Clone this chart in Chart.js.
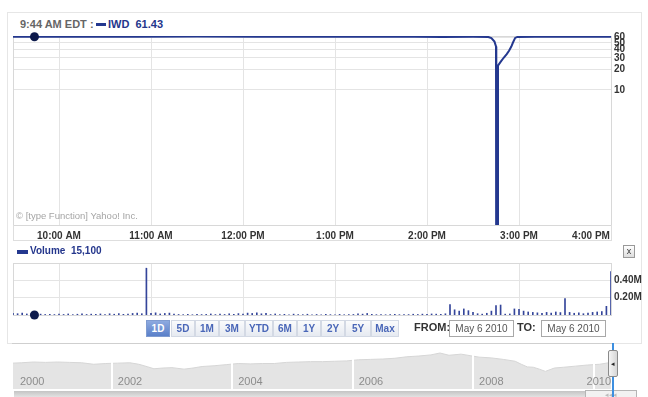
<!DOCTYPE html>
<html>
<head>
<meta charset="utf-8">
<script src="https://cdn.jsdelivr.net/npm/chart.js@4.4.0/dist/chart.umd.min.js"></script>
<style>
  body { margin: 0; background: #fff; font-family: "Liberation Sans", Arial, sans-serif; }
  #wrap { position: relative; width: 648px; height: 397px; overflow: hidden; }
  #wrap canvas { position: absolute; left: 0; }
  .abs { position: absolute; white-space: nowrap; }
  .btn { position: absolute; top: 320px; height: 15px; line-height: 15px; text-align: center;
         font-size: 10px; font-weight: bold; color: #4a67b8; border: 1px solid #d3d9e4;
         background: linear-gradient(#fafbfc, #e6eaf1); }
  .btn.on { color: #fff; background: linear-gradient(#8eaae0, #5a80c9); border-color: #7f9bd0; }
  .date { position: absolute; top: 320px; height: 15px; line-height: 15px; width: 63px; text-align: center;
          font-size: 10px; color: #555; border: 1px solid #a8a8a8; background: #fff; }
</style>
</head>
<body>
<div id="wrap">
  <div class="abs" style="left:7px;top:12px;width:633px;height:330px;border:1px solid #e6e6e6;"></div>

  <div class="abs" style="left:20px;top:18px;font-size:11px;font-weight:bold;color:#666;">9:44 AM EDT :</div>
  <div class="abs" style="left:96px;top:23px;width:10px;height:3px;background:#24388f;"></div>
  <div class="abs" style="left:108px;top:18px;font-size:11px;font-weight:bold;color:#24368c;">IWD&nbsp; 61.43</div>

  <canvas id="priceChart" width="648" height="218" style="top:30px;"></canvas>
  <div class="abs" style="left:16px;top:210px;font-size:9.5px;color:#a5a5a5;">© [type Function] Yahoo! Inc.</div>
  <div class="abs" style="left:13px;top:225px;width:597px;height:15px;border:1px solid #dedede;border-top:none;"></div>

  <div class="abs" style="left:17px;top:250px;width:11px;height:4px;background:#24388f;"></div>
  <div class="abs" style="left:30px;top:245px;font-size:10px;font-weight:bold;color:#24368c;">Volume&nbsp; 15,100</div>
  <div class="abs" style="left:623px;top:245px;width:10px;height:11px;border:1px solid #999;background:linear-gradient(#fff,#ddd);font-size:9px;line-height:10px;text-align:center;color:#333;">x</div>

  <canvas id="volumeChart" width="648" height="62" style="top:258px;"></canvas>

  <div class="btn on" style="left:146px;width:22px;">1D</div>
  <div class="btn" style="left:171px;width:22px;">5D</div>
  <div class="btn" style="left:195px;width:22px;">1M</div>
  <div class="btn" style="left:219px;width:24px;">3M</div>
  <div class="btn" style="left:245px;width:26px;">YTD</div>
  <div class="btn" style="left:273px;width:22px;">6M</div>
  <div class="btn" style="left:297px;width:22px;">1Y</div>
  <div class="btn" style="left:321px;width:22px;">2Y</div>
  <div class="btn" style="left:345px;width:24px;">5Y</div>
  <div class="btn" style="left:371px;width:26px;">Max</div>
  <div class="abs" style="left:414px;top:321px;font-size:11px;font-weight:bold;color:#333;">FROM:</div>
  <div class="date" style="left:449px;">May 6 2010</div>
  <div class="abs" style="left:517px;top:321px;font-size:11px;font-weight:bold;color:#333;">TO:</div>
  <div class="date" style="left:541px;">May 6 2010</div>

  <div class="abs" style="left:12px;top:343px;width:600px;height:0;border-top:1px solid #cfcfcf;"></div>
  <canvas id="navChart" width="648" height="46" style="top:343px;"></canvas>
  <div class="abs" style="left:14px;top:391px;width:571px;height:6px;background:linear-gradient(#c4c4c4,#e2e2e2);"></div>
  <div class="abs" style="left:585px;top:390px;width:50px;height:8px;border:1px solid #b5b5b5;background:#f2f2f2;font-size:7px;line-height:8px;color:#bbb;text-align:center;">◂◂◂</div>
  <div class="abs" style="left:612px;top:343px;width:2px;height:54px;background:#3d8fe0;"></div>
  <div class="abs" style="left:608px;top:350px;width:8px;height:25px;border:1px solid #8a8a8a;border-radius:2px;background:linear-gradient(90deg,#f4f4f4,#d6d6d6);font-size:7px;line-height:25px;text-align:center;color:#222;">◂</div>
</div>

<script>
// intraday price, May 6 2010 (minutes after 9:30 AM)
const priceMinutes = [0, 14, 40, 80, 120, 160, 200, 240, 262, 280, 300, 310, 312, 314, 315, 315.2, 316.0, 316.3, 318, 320, 322, 323.5, 325, 326, 327.5, 329, 340, 360, 380, 390];
const prices = [61.55, 61.43, 61.6, 61.5, 61.7, 61.6, 61.5, 61.6, 61.3, 61.0, 61.2, 60.8, 58.5, 52, 44, 0.0001, 0.0001, 23, 26, 30, 34, 38, 44, 50, 59, 61.0, 61.2, 61.4, 61.3, 61.4];
const cursorMinute = 14;
const cursorPrice = 61.43;

// price axis ticks
const priceTicks = [10, 20, 30, 40, 50, 60];

// time axis
const tickMinutes = [30, 90, 150, 210, 270, 330, 390];
const tickLabels = ['10:00 AM', '11:00 AM', '12:00 PM', '1:00 PM', '2:00 PM', '3:00 PM', '4:00 PM'];

// volume in thousands of shares, 3-minute bins from 9:30 to 4:00
const volumeBinMinutes = 3;
const volumeK = [
  20, 15, 22, 12, 18, 8, 10, 6, 8, 5,
  10, 6, 12, 4, 9, 14, 6, 10, 8, 12,
  5, 14, 9, 16, 8, 12, 18, 22, 15, 540,
  20, 25, 12, 18, 22, 10, 6, 4, 8, 3,
  9, 5, 7, 12, 5, 10, 6, 14, 8, 16,
  10, 22, 18, 25, 14, 20, 5, 12, 4, 8,
  3, 10, 5, 4, 9, 3, 6, 2, 8, 4,
  3, 7, 3, 5, 6, 14, 10, 18, 8, 4,
  6, 3, 5, 8, 4, 6, 5, 9, 6, 10,
  8, 12, 10, 8, 14, 120, 60, 45, 70, 50,
  30, 15, 10, 20, 45, 110, 115, 10, 12, 70,
  65, 45, 35, 30, 25, 20, 30, 22, 35, 28,
  190, 30, 20, 25, 15, 22, 30, 35, 40, 100,
  500
];
const volumeTicksK = [200, 400, 600];

// navigator: IWD history
const navYears = [2000.36, 2000.5, 2000.7, 2000.9, 2001.1, 2001.3, 2001.5, 2001.7, 2001.9, 2002.1, 2002.3, 2002.45, 2002.6, 2002.7, 2002.85, 2003.0, 2003.2, 2003.35, 2003.5, 2003.7, 2003.9, 2004.1, 2004.3, 2004.5, 2004.7, 2004.9, 2005.1, 2005.3, 2005.5, 2005.7, 2005.9, 2006.1, 2006.3, 2006.5, 2006.7, 2006.9, 2007.1, 2007.3, 2007.45, 2007.6, 2007.8, 2007.95, 2008.1, 2008.3, 2008.5, 2008.7, 2008.8, 2008.9, 2009.0, 2009.1, 2009.2, 2009.35, 2009.5, 2009.7, 2009.9, 2010.1, 2010.29];
const navPrices = [58, 59, 61, 60, 61, 60, 59, 55, 57, 58, 59, 55, 48, 43, 45, 46, 42, 45, 49, 51, 54, 57, 56, 57, 57, 60, 61, 62, 62, 63, 64, 67, 68, 69, 71, 75, 77, 80, 85, 79, 82, 78, 74, 72, 68, 63, 55, 48, 47, 42, 36, 45, 47, 50, 53, 55, 60];
const navLabelYears = [2000, 2002, 2004, 2006, 2008, 2010];

const lineBlue = '#24388f';
const gridGray = '#e4e4e4';
const tickFont = { family: 'Liberation Sans', size: 10, weight: 'bold' };

const plotFrame = {
  id: 'plotFrame',
  beforeDatasetsDraw(chart) {
    const a = chart.chartArea, c = chart.ctx;
    c.save();
    c.strokeStyle = '#d8d8d8';
    c.lineWidth = 1;
    c.strokeRect(Math.round(a.left) + 0.5, Math.round(a.top) + 0.5, Math.round(a.right - a.left), Math.round(a.bottom - a.top));
    c.restore();
  }
};

function fixWidth(w) {
  return s => { s.width = w; s.paddingTop = 0; s.paddingBottom = 0; };
}
function fixHeight(h) {
  return s => { s.height = h; s.paddingLeft = 0; s.paddingRight = 0; };
}

new Chart(document.getElementById('priceChart'), {
  type: 'line',
  data: {
    datasets: [
      {
        data: [{ x: cursorMinute, y: cursorPrice }],
        showLine: false,
        pointRadius: 4.5,
        pointBackgroundColor: '#0d1a4c',
        pointBorderWidth: 0,
        clip: false
      },
      {
        data: priceMinutes.map((m, i) => ({ x: m, y: prices[i] })),
        borderColor: lineBlue,
        borderWidth: 2,
        pointRadius: 0,
        tension: 0
      }
    ]
  },
  options: {
    responsive: false,
    animation: false,
    layout: { padding: { left: 13, top: 6, right: 0, bottom: 0 } },
    plugins: { legend: { display: false }, tooltip: { enabled: false } },
    scales: {
      x: {
        type: 'linear', min: 0, max: 390,
        afterBuildTicks: s => { s.ticks = tickMinutes.map(v => ({ value: v })); },
        afterFit: fixHeight(23),
        ticks: {
          autoSkip: false, maxRotation: 0, padding: 5, color: '#333', font: tickFont,
          callback: v => {
            const i = tickMinutes.indexOf(v);
            // last label sits right-aligned against the plot edge
            return i === tickMinutes.length - 1 ? tickLabels[i] + '\u2003\u2003\u2003\u2003' : tickLabels[i];
          }
        },
        grid: { color: gridGray, drawTicks: false },
        border: { color: '#d8d8d8' }
      },
      y: {
        type: 'logarithmic', position: 'right', min: 0.1, max: 63,
        afterBuildTicks: s => { s.ticks = priceTicks.map(v => ({ value: v })); },
        afterFit: fixWidth(37),
        ticks: { autoSkip: false, padding: 3, color: '#333', font: tickFont, callback: v => String(v) },
        grid: { color: gridGray, drawTicks: false },
        border: { color: '#d8d8d8' }
      }
    }
  },
  plugins: [plotFrame]
});

new Chart(document.getElementById('volumeChart'), {
  type: 'bar',
  data: {
    datasets: [
      {
        type: 'scatter',
        data: [{ x: cursorMinute, y: 0 }],
        pointRadius: 4.5,
        pointBackgroundColor: '#0d1a4c',
        pointBorderWidth: 0,
        clip: false
      },
      {
        data: volumeK.map((v, i) => ({ x: i * volumeBinMinutes, y: v })),
        backgroundColor: '#34459a',
        barThickness: 1,
        grouped: false
      }
    ]
  },
  options: {
    responsive: false,
    animation: false,
    layout: { padding: { left: 13, top: 5, right: 0, bottom: 5 } },
    plugins: { legend: { display: false }, tooltip: { enabled: false } },
    scales: {
      x: {
        type: 'linear', min: 0, max: 390, offset: false,
        afterBuildTicks: s => { s.ticks = tickMinutes.map(v => ({ value: v })); },
        afterFit: fixHeight(0),
        ticks: { display: false },
        grid: { color: gridGray, drawTicks: false, offset: false },
        border: { display: false }
      },
      y: {
        type: 'linear', position: 'right', min: 0, max: 600,
        afterBuildTicks: s => { s.ticks = volumeTicksK.map(v => ({ value: v })); },
        afterFit: fixWidth(37),
        ticks: {
          autoSkip: false, padding: 3, color: '#333', font: tickFont,
          callback: v => v === 600 ? '' : (v / 1000).toFixed(2) + 'M'
        },
        grid: { color: gridGray, drawTicks: false },
        border: { color: '#d8d8d8' }
      }
    }
  },
  plugins: [plotFrame]
});

const navDecor = {
  id: 'navDecor',
  afterDatasetsDraw(chart) {
    const a = chart.chartArea, c = chart.ctx, xs = chart.scales.x;
    c.save();
    c.strokeStyle = '#fff';
    c.lineWidth = 2;
    navLabelYears.forEach(yr => {
      const px = Math.round(xs.getPixelForValue(yr));
      if (px > a.left && px < a.right) {
        c.beginPath(); c.moveTo(px, a.top); c.lineTo(px, a.bottom); c.stroke();
      }
    });
    c.font = '11px "Liberation Sans", Arial';
    c.fillStyle = '#8c8c8c';
    c.textBaseline = 'alphabetic';
    navLabelYears.forEach(yr => {
      const txt = String(yr);
      const w = c.measureText(txt).width;
      let px = xs.getPixelForValue(yr) + 6;
      px = Math.max(px, a.left + 7);
      px = Math.min(px, a.right - w);
      c.fillText(txt, px, a.bottom - 4);
    });
    c.restore();
  }
};

new Chart(document.getElementById('navChart'), {
  type: 'line',
  data: {
    datasets: [{
      data: navYears.map((y, i) => ({ x: y, y: navPrices[i] })),
      borderColor: '#d6d6d6',
      borderWidth: 1,
      backgroundColor: '#e4e4e4',
      fill: 'start',
      pointRadius: 0,
      tension: 0
    }]
  },
  options: {
    responsive: false,
    animation: false,
    layout: { padding: { left: 13, top: 1, right: 37, bottom: 0 } },
    plugins: { legend: { display: false }, tooltip: { enabled: false } },
    scales: {
      x: { type: 'linear', display: false, min: 2000.36, max: 2010.29 },
      y: { type: 'linear', display: false, min: -11, max: 109 }
    }
  },
  plugins: [navDecor]
});
</script>
</body>
</html>
